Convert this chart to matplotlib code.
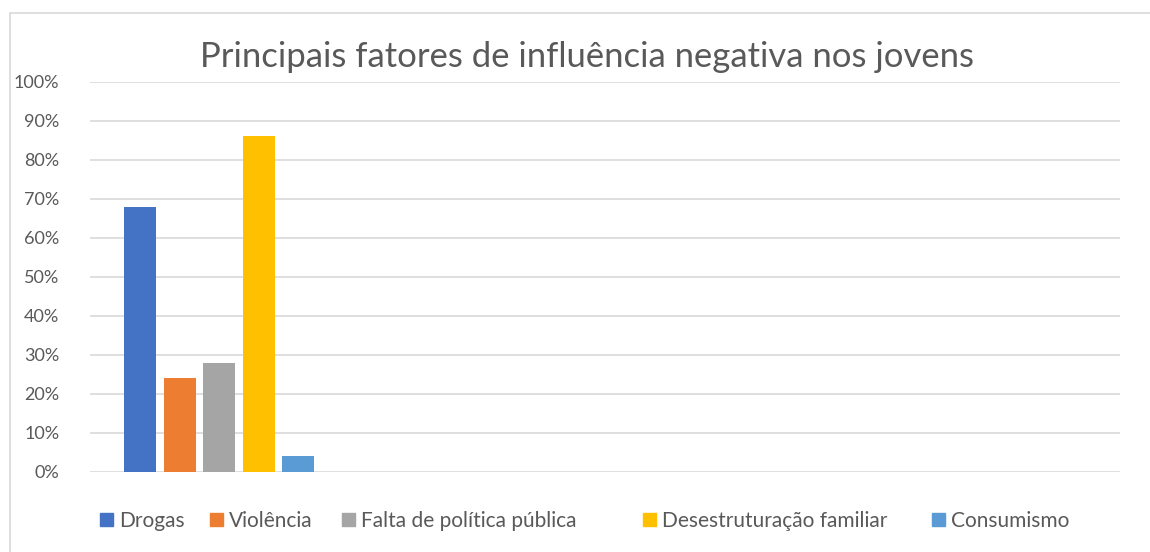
import matplotlib.pyplot as plt
import matplotlib.patches as mpatches
import numpy as np

series = ['Drogas', 'Violência', 'Falta de política pública',
          'Desestruturação familiar', 'Consumismo']
values = [0.68, 0.24, 0.28, 0.86, 0.04]
colors = ['#4472C4', '#ED7D31', '#A5A5A5', '#FFC000', '#5B9BD5']
yticks = np.arange(0, 1.01, 0.1)
legend_x = [100, 210, 342, 643, 932]  # left edge of each legend entry, px

plt.rcParams['font.family'] = ['Lato', 'DejaVu Sans']
text_color = '#595959'

W, H = 1150, 552
fig = plt.figure(figsize=(W / 100, H / 100), dpi=100)

# chart frame (cropped on the right and bottom)
fig.patches.append(mpatches.Rectangle((10 / W, -0.1), 1.2, 1 - 13 / H + 0.1,
                                      transform=fig.transFigure, fill=False,
                                      edgecolor='#d9d9d9', linewidth=1.2))

ax = fig.add_axes([90 / W, (H - 472) / H, (1120 - 90) / W, (472 - 81.7) / H])
x = np.arange(len(series))
for i in range(len(series)):
    ax.bar(x[i], values[i], width=0.81, color=colors[i], label=series[i], zorder=3)

ax.set_xlim(-1.266, 24.81)
ax.set_ylim(0, 1.0)
ax.set_yticks(yticks)
ax.set_yticklabels(['%d%%' % round(v * 100) for v in yticks])
ax.set_xticks([])
ax.grid(axis='y', color='#d9d9d9', linewidth=1.2, zorder=0)
for s in ax.spines.values():
    s.set_visible(False)
ax.tick_params(axis='y', length=0, pad=22, labelsize=13, labelcolor=text_color)

fig.text(0.5 * (203 + 970) / W, 1 - 57 / H,
         'Principais fatores de influência negativa nos jovens',
         ha='center', va='center', fontsize=24.9, color=text_color)

# one legend per entry so the spacing follows the original
for i in range(len(series)):
    fig.legend([mpatches.Patch(color=colors[i])], [series[i]], loc='center left',
               bbox_to_anchor=(legend_x[i] / W, 1 - 521 / H), frameon=False,
               fontsize=15, handlelength=0.6, handleheight=0.6, handletextpad=0.3,
               borderpad=0, borderaxespad=0, labelcolor=text_color)

fig.savefig('out.png', dpi=100, facecolor='white')
